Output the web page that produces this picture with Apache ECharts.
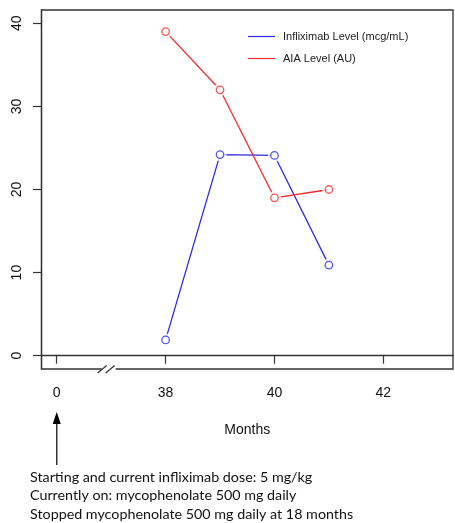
<!DOCTYPE html>
<html><head><meta charset="utf-8">
<script src="https://cdn.jsdelivr.net/npm/echarts@6/dist/echarts.min.js"></script>
<style>html,body{margin:0;padding:0;background:#fff}#c{width:455px;height:523px}</style>
</head><body><div id="c"></div>
<script>
const months = [38, 39, 40, 41];
const infliximab = [1.9, 24.2, 24.1, 10.9];
const aia = [39.0, 32.0, 19.0, 20.0];
const xTickValues = [36, 38, 40, 42];
const xTickLabels = ['0', '38', '40', '42'];
const yTickValues = [0, 10, 20, 30, 40];
const seriesNames = ['Infliximab Level (mcg/mL)', 'AIA Level (AU)'];
const seriesColors = ['#2b2bf0', '#f52a2a'];
const xAxisTitle = 'Months';
const notes = [
  'Starting and current infliximab dose: 5 mg/kg',
  'Currently on: mycophenolate 500 mg daily',
  'Stopped mycophenolate 500 mg daily at 18 months'
];

const chart = echarts.init(document.getElementById('c'), null, {renderer: 'canvas'});
const axisFont = 'Liberation Sans, Arial, sans-serif';

function pairs(xs, ys) { return xs.map((x, i) => [x, ys[i]]); }
const allSeries = [];
[infliximab, aia].forEach((vals, i) => {
  const d = pairs(months, vals);
  allSeries.push({
    type: 'line', name: seriesNames[i], data: d, showSymbol: false, z: 2,
    color: seriesColors[i],
    lineStyle: {color: seriesColors[i], width: 1.3}, silent: true
  });
  allSeries.push({
    type: 'scatter', name: '_mask' + i, data: d, symbol: 'circle', symbolSize: 13, z: 3,
    itemStyle: {color: '#fff'}, silent: true
  });
  allSeries.push({
    type: 'scatter', name: '_pt' + i, data: d, symbol: 'circle', symbolSize: 7.5, z: 4,
    itemStyle: {color: '#fff', borderColor: seriesColors[i], borderWidth: 1.3}, silent: true
  });
});

chart.setOption({
  animation: false,
  backgroundColor: '#fff',
  grid: {left: 41.5, right: 2, top: 10, bottom: 154, show: true, borderColor: '#333', borderWidth: 1.3,
         backgroundColor: 'transparent', containLabel: false, outerBoundsMode: 'none'},
  legend: {
    data: seriesNames, orient: 'vertical', left: 243, top: 24.5,
    icon: 'rect', itemWidth: 27, itemHeight: 1.2, itemGap: 8,
    textStyle: {fontFamily: axisFont, fontSize: 11, color: '#222', lineHeight: 14, padding: [0, 0, 0, 3]},
    selectedMode: false
  },
  xAxis: {
    type: 'value', min: 35.72, max: 43.28,
    name: xAxisTitle, nameLocation: 'middle', nameGap: 54,
    nameTextStyle: {fontFamily: axisFont, fontSize: 14, color: '#111'},
    axisLine: {show: true, lineStyle: {color: '#333', width: 1.3}},
    axisTick: {show: true, inside: false, length: 8, customValues: xTickValues, lineStyle: {color: '#333', width: 1.2}},
    axisLabel: {customValues: xTickValues, margin: 17, fontFamily: axisFont, fontSize: 14, color: '#111',
      formatter: v => { const k = xTickValues.indexOf(v); return k >= 0 ? xTickLabels[k] : ''; }},
    splitLine: {show: false}
  },
  yAxis: {
    type: 'value', min: -1.6, max: 41.6,
    axisLine: {show: true, lineStyle: {color: '#333', width: 1.3}},
    axisTick: {show: true, inside: false, length: 8.5, customValues: yTickValues, lineStyle: {color: '#333', width: 1.2}},
    axisLabel: {customValues: yTickValues, rotate: 90, margin: 17, fontFamily: axisFont, fontSize: 14, color: '#111',
      formatter: v => String(v)},
    splitLine: {show: false}
  },
  series: allSeries
});

// decorations: axis break, arrow, notes
const br = chart.convertToPixel({gridIndex: 0}, [37, -1.6]);
const ar = chart.convertToPixel({gridIndex: 0}, [36, -1.6]);
const bx = br[0] - 0.5, by = br[1];
const graphics = [
  {type: 'rect', shape: {x: bx - 9, y: by - 3, width: 14, height: 6}, style: {fill: '#fff'}, z: 10},
  {type: 'line', shape: {x1: bx - 13, y1: by + 4, x2: bx - 4, y2: by - 3.5}, style: {stroke: '#333', lineWidth: 1.2}, z: 11},
  {type: 'line', shape: {x1: bx - 5, y1: by + 4, x2: bx + 4, y2: by - 3.5}, style: {stroke: '#333', lineWidth: 1.2}, z: 11},
  {type: 'line', shape: {x1: ar[0], y1: 423, x2: ar[0], y2: 465}, style: {stroke: '#333', lineWidth: 1.5}, z: 11},
  {type: 'polygon', shape: {points: [[ar[0], 412], [ar[0] - 4, 424], [ar[0] + 4, 424]]}, style: {fill: '#000'}, z: 11}
];
notes.forEach((t, i) => {
  graphics.push({type: 'text', left: 30, top: 470 + i * 18.7, z: 11,
    style: {text: t, fontFamily: 'Lato, Carlito, sans-serif', fontSize: 14.3, fill: '#111'}});
});
chart.setOption({graphic: graphics});
</script>
</body></html>
